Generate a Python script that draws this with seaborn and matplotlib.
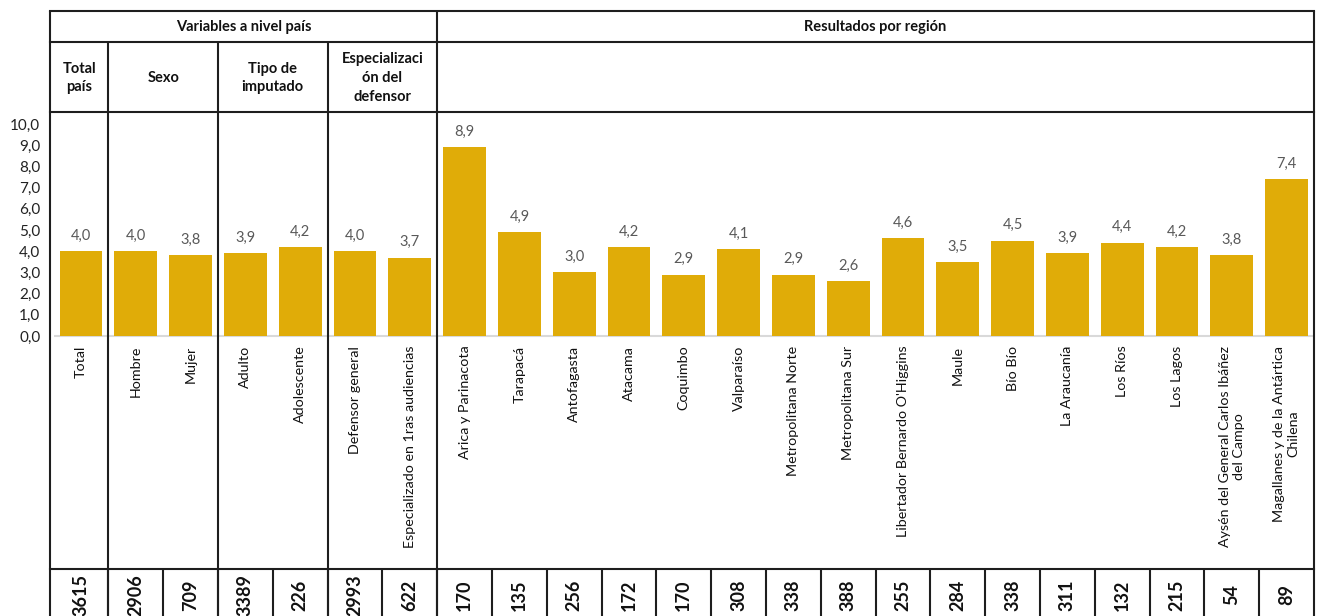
import numpy as np
import pandas as pd
import seaborn as sns
import matplotlib.pyplot as plt
import matplotlib.transforms as mtransforms

# ---------------- data ----------------
categories = [
    "Total", "Hombre", "Mujer", "Adulto", "Adolescente",
    "Defensor general", "Especializado en 1ras audiencias",
    "Arica y Parinacota", "Tarapacá", "Antofagasta", "Atacama", "Coquimbo",
    "Valparaíso", "Metropolitana Norte", "Metropolitana Sur",
    "Libertador Bernardo O'Higgins", "Maule", "Bío Bío", "La Araucanía",
    "Los Ríos", "Los Lagos", "Aysén del General Carlos Ibáñez\ndel Campo",
    "Magallanes y de la Antártica\nChilena",
]
values = [4.0, 4.0, 3.8, 3.9, 4.2, 4.0, 3.7,
          8.9, 4.9, 3.0, 4.2, 2.9, 4.1, 2.9, 2.6, 4.6, 3.5, 4.5, 3.9, 4.4, 4.2, 3.8, 7.4]
counts = [3615, 2906, 709, 3389, 226, 2993, 622,
          170, 135, 256, 172, 170, 308, 338, 388, 255, 284, 338, 311, 132, 215, 54, 89]
group_names = ["Total\npaís", "Sexo", "Tipo de\nimputado", "Especializaci\nón del\ndefensor", ""]
group_sizes = [1, 2, 2, 2, 16]
section_names = ["Variables a nivel país", "Resultados por región"]
section_sizes = [7, 16]
y_ticks = [0, 1, 2, 3, 4, 5, 6, 7, 8, 9, 10]

# ---------------- style ----------------
sns.set_theme(style="white")
plt.rcParams['font.family'] = ['Lato', 'DejaVu Sans']

W, H = 1317, 616
fig = plt.figure(figsize=(W / 100, H / 100), dpi=100)


def fx(px):
    return px / W


def fy(py):
    return 1 - py / H


BAR = "#E0AC08"
LINE = "#1e1e1e"
n = len(categories)

ax = fig.add_axes([fx(50), fy(336), fx(1314) - fx(50), fy(112) - fy(336)])
df = pd.DataFrame({"cat": categories, "val": values})
sns.barplot(data=df, x="cat", y="val", color=BAR, saturation=1, width=0.78,
            linewidth=0, ax=ax)
ax.set_xlim(-0.565, n - 0.5)
ax.set_ylim(0, 10 * (336 - 112) / (336 - 124))
for s in ax.spines.values():
    s.set_visible(False)
ax.set_xlabel("")
ax.set_ylabel("")
ax.set_yticks(y_ticks)
ax.set_yticklabels([f"{v:.1f}".replace(".", ",") for v in y_ticks], fontsize=11, color="#222222")
ax.tick_params(axis="y", length=0, pad=7)
ax.set_xticks(range(n))
ax.set_xticklabels(categories, rotation=90, va="top", ha="center", fontsize=10.3,
                   color="#111111", multialignment="center", linespacing=1.25)
ax.tick_params(axis="x", length=0, pad=7)
ax.hlines(0, -0.5, n - 0.5, color="#D9D9D9", lw=1.5, zorder=0, clip_on=False)

ax.bar_label(ax.containers[0], labels=[f"{v:.1f}".replace(".", ",") for v in values],
             padding=6, color="#595959", fontsize=10.5)

# ---------------- table grid ----------------
blend = mtransforms.blended_transform_factory(ax.transData, fig.transFigure)
xl, xr = -0.565, n - 0.5


def hline(py):
    ax.plot([xl, xr], [fy(py), fy(py)], color=LINE, lw=1.5, transform=blend,
            clip_on=False, solid_capstyle="projecting")


def vline(x, py0, py1):
    ax.plot([x, x], [fy(py0), fy(py1)], color=LINE, lw=1.5, transform=blend,
            clip_on=False, solid_capstyle="butt")


for py in (11, 42, 112, 569):
    hline(py)
vline(xl, 11, H + 5)
vline(xr, 11, H + 5)

sec_bounds = np.cumsum(section_sizes) - 0.5
grp_bounds = np.cumsum(group_sizes) - 0.5
for b in sec_bounds[:-1]:
    vline(b, 11, H + 5)
for b in grp_bounds[:-1]:
    if b not in sec_bounds:
        vline(b, 42, H + 5)
for i in range(n - 1):
    vline(i + 0.5, 569, H + 5)

# section headers
starts = np.concatenate([[xl], sec_bounds[:-1]])
ends = np.concatenate([sec_bounds[:-1], [xr]])
for name, a, b in zip(section_names, starts, ends):
    ax.text((a + b) / 2, fy(27), name, transform=blend, ha="center", va="center",
            fontsize=10.5, fontweight="bold", color="#111111")

gstarts = np.concatenate([[xl], grp_bounds[:-1]])
gends = np.concatenate([grp_bounds[:-1], [xr]])
for name, a, b in zip(group_names, gstarts, gends):
    if name:
        ax.text((a + b) / 2, fy(78), name, transform=blend, ha="center", va="center",
                fontsize=10.5, fontweight="bold", color="#111111", linespacing=1.45,
                multialignment="center")

# bottom counts row
for i, c in enumerate(counts):
    ax.text(i, fy(595), str(c), transform=blend, rotation=90, ha="center", va="center",
            fontsize=13, fontweight="bold", color="#111111", clip_on=False)

fig.savefig("out.png", dpi=100)
